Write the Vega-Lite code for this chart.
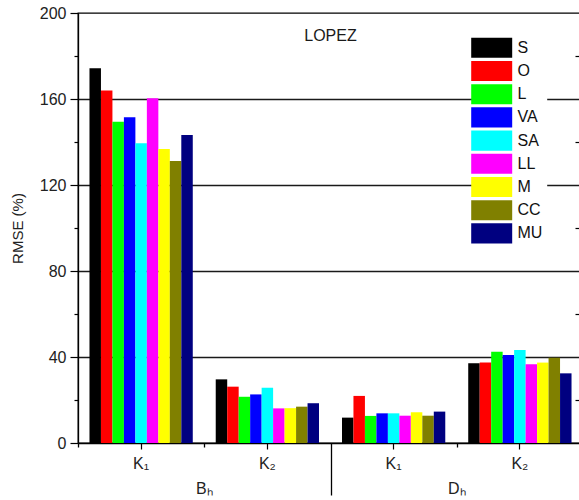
{
  "$schema": "https://vega.github.io/schema/vega-lite/v6.json",
  "width": 505,
  "height": 430,
  "autosize": {"type": "none"},
  "padding": {"left": 78, "top": 13, "right": -4, "bottom": 57},
  "config": {
    "font": "Liberation Sans",
    "view": {"stroke": "black", "strokeWidth": 1.3}
  },
  "title": {
    "text": "LOPEZ",
    "fontSize": 16,
    "fontWeight": "normal",
    "color": "#1a1a1a",
    "anchor": "middle",
    "baseline": "alphabetic",
    "offset": -28,
    "dy": 24
  },
  "data": {
    "values": [
      {"cond": "Bₕ K₁", "family": "Bₕ", "series": "S", "value": 174.3},
      {"cond": "Bₕ K₁", "family": "Bₕ", "series": "O", "value": 163.9},
      {"cond": "Bₕ K₁", "family": "Bₕ", "series": "L", "value": 149.4},
      {"cond": "Bₕ K₁", "family": "Bₕ", "series": "VA", "value": 151.5},
      {"cond": "Bₕ K₁", "family": "Bₕ", "series": "SA", "value": 139.4},
      {"cond": "Bₕ K₁", "family": "Bₕ", "series": "LL", "value": 160.3},
      {"cond": "Bₕ K₁", "family": "Bₕ", "series": "M", "value": 136.7},
      {"cond": "Bₕ K₁", "family": "Bₕ", "series": "CC", "value": 131.2},
      {"cond": "Bₕ K₁", "family": "Bₕ", "series": "MU", "value": 143.3},
      {"cond": "Bₕ K₂", "family": "Bₕ", "series": "S", "value": 29.6},
      {"cond": "Bₕ K₂", "family": "Bₕ", "series": "O", "value": 26.2},
      {"cond": "Bₕ K₂", "family": "Bₕ", "series": "L", "value": 21.5},
      {"cond": "Bₕ K₂", "family": "Bₕ", "series": "VA", "value": 22.6},
      {"cond": "Bₕ K₂", "family": "Bₕ", "series": "SA", "value": 25.7},
      {"cond": "Bₕ K₂", "family": "Bₕ", "series": "LL", "value": 16.1},
      {"cond": "Bₕ K₂", "family": "Bₕ", "series": "M", "value": 16.2},
      {"cond": "Bₕ K₂", "family": "Bₕ", "series": "CC", "value": 16.9},
      {"cond": "Bₕ K₂", "family": "Bₕ", "series": "MU", "value": 18.5},
      {"cond": "Dₕ K₁", "family": "Dₕ", "series": "S", "value": 11.8},
      {"cond": "Dₕ K₁", "family": "Dₕ", "series": "O", "value": 21.9},
      {"cond": "Dₕ K₁", "family": "Dₕ", "series": "L", "value": 12.6},
      {"cond": "Dₕ K₁", "family": "Dₕ", "series": "VA", "value": 13.8},
      {"cond": "Dₕ K₁", "family": "Dₕ", "series": "SA", "value": 13.8},
      {"cond": "Dₕ K₁", "family": "Dₕ", "series": "LL", "value": 12.7},
      {"cond": "Dₕ K₁", "family": "Dₕ", "series": "M", "value": 14.3},
      {"cond": "Dₕ K₁", "family": "Dₕ", "series": "CC", "value": 12.7},
      {"cond": "Dₕ K₁", "family": "Dₕ", "series": "MU", "value": 14.6},
      {"cond": "Dₕ K₂", "family": "Dₕ", "series": "S", "value": 37.1},
      {"cond": "Dₕ K₂", "family": "Dₕ", "series": "O", "value": 37.4},
      {"cond": "Dₕ K₂", "family": "Dₕ", "series": "L", "value": 42.5},
      {"cond": "Dₕ K₂", "family": "Dₕ", "series": "VA", "value": 40.9},
      {"cond": "Dₕ K₂", "family": "Dₕ", "series": "SA", "value": 43.3},
      {"cond": "Dₕ K₂", "family": "Dₕ", "series": "LL", "value": 36.6},
      {"cond": "Dₕ K₂", "family": "Dₕ", "series": "M", "value": 37.4},
      {"cond": "Dₕ K₂", "family": "Dₕ", "series": "CC", "value": 39.7},
      {"cond": "Dₕ K₂", "family": "Dₕ", "series": "MU", "value": 32.4}
    ]
  },
  "resolve": {
    "scale": {"x": "independent"},
    "axis": {"x": "independent", "y": "independent"}
  },
  "layer": [
    {
      "mark": {"type": "bar"},
      "encoding": {
        "x": {
          "field": "cond",
          "type": "nominal",
          "sort": ["Bₕ K₁", "Bₕ K₂", "Dₕ K₁", "Dₕ K₂"],
          "scale": {"paddingInner": 0, "paddingOuter": 0},
          "axis": {
            "orient": "bottom",
            "title": null,
            "labelAngle": 0,
            "labelExpr": "split(datum.label, ' ')[1]",
            "labelFontSize": 16,
            "labelColor": "#222222",
            "labelPadding": 6,
            "tickSize": 6,
            "tickColor": "black",
            "tickWidth": 1.2,
            "domainColor": "black",
            "domainWidth": 1.3
          }
        },
        "xOffset": {
          "field": "series",
          "type": "nominal",
          "sort": ["S", "O", "L", "VA", "SA", "LL", "M", "CC", "MU"],
          "scale": {"paddingInner": 0, "paddingOuter": 1.88}
        },
        "y": {
          "field": "value",
          "type": "quantitative",
          "scale": {"domain": [0, 200], "nice": false},
          "axis": {
            "title": "RMSE (%)",
            "values": [0, 20, 40, 60, 80, 100, 120, 140, 160, 180, 200],
            "labelExpr": "datum.value % 40 === 0 ? datum.label : ''",
            "labelFontSize": 16,
            "labelColor": "#222222",
            "labelPadding": 4,
            "tickSize": {"condition": {"test": "datum.value % 40 === 0", "value": 8}, "value": 4},
            "tickColor": "black",
            "tickWidth": 1.2,
            "domainColor": "black",
            "domainWidth": 1.3,
            "grid": true,
            "gridColor": "#1a1a1a",
            "gridWidth": 1.3,
            "gridOpacity": {"condition": {"test": "datum.value % 40 === 0 && datum.value > 0 && datum.value < 200", "value": 1}, "value": 0},
            "titleFontSize": 15,
            "titleFontWeight": "normal",
            "titleColor": "#222222",
            "titlePadding": 14
          }
        },
        "color": {
          "field": "series",
          "type": "nominal",
          "sort": ["S", "O", "L", "VA", "SA", "LL", "M", "CC", "MU"],
          "scale": {
            "domain": ["S", "O", "L", "VA", "SA", "LL", "M", "CC", "MU"],
            "range": ["#000000", "#ff0000", "#00ff00", "#0000ff", "#00ffff", "#ff00ff", "#ffff00", "#808000", "#000080"]
          },
          "legend": {
            "orient": "none",
            "legendX": 399.2,
            "legendY": 20.3,
            "title": null,
            "padding": 4,
            "fillColor": "white",
            "symbolType": "M-2,-0.98H2V0.98H-2Z",
            "symbolSize": 420,
            "symbolStrokeWidth": 0,
            "symbolOpacity": 1,
            "labelFontSize": 16,
            "labelColor": "#111111",
            "labelOffset": 15.3,
            "rowPadding": 2.2
          }
        }
      }
    },
    {
      "mark": {"type": "rule", "opacity": 0},
      "encoding": {
        "x": {
          "field": "cond",
          "type": "nominal",
          "sort": ["Bₕ K₁", "Bₕ K₂", "Dₕ K₁", "Dₕ K₂"],
          "scale": {"paddingInner": 0, "paddingOuter": 0},
          "axis": {
            "orient": "bottom",
            "title": null,
            "labels": false,
            "domain": false,
            "tickBand": "extent",
            "tickExtra": false,
            "tickColor": "black",
            "tickWidth": 1.3,
            "tickSize": {"condition": {"test": "datum.value === 'Bₕ K₂'", "value": 52}, "value": 4},
            "tickOpacity": {"condition": {"test": "datum.value === 'Dₕ K₂'", "value": 0}, "value": 1}
          }
        }
      }
    },
    {
      "mark": {"type": "rule", "opacity": 0},
      "encoding": {
        "x": {
          "field": "family",
          "type": "nominal",
          "sort": ["Bₕ", "Dₕ"],
          "scale": {"paddingInner": 0, "paddingOuter": 0},
          "axis": {
            "orient": "bottom",
            "title": null,
            "labelAngle": 0,
            "ticks": false,
            "domain": false,
            "labelFontSize": 16,
            "labelColor": "#222222",
            "labelPadding": 37
          }
        },
        "y": {
          "field": "value",
          "type": "quantitative",
          "axis": {
            "orient": "right",
            "offset": -8,
            "title": null,
            "labels": false,
            "domain": false,
            "grid": false,
            "values": [20, 60, 100, 140, 180],
            "tickSize": 8,
            "tickColor": "black",
            "tickWidth": 1.2
          }
        }
      }
    }
  ]
}
